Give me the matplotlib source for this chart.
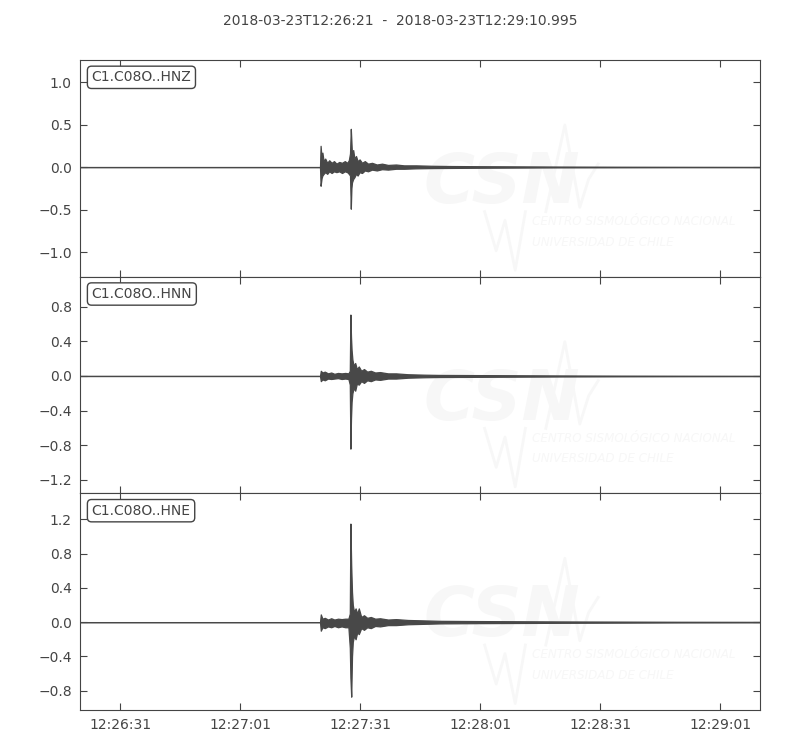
import numpy as np
import matplotlib
matplotlib.use('Agg')
import matplotlib.pyplot as plt

# 标题 / 通道名
title = '2018-03-23T12:26:21  -  2018-03-23T12:29:10.995'
channels = ['C1.C08O..HNZ', 'C1.C08O..HNN', 'C1.C08O..HNE']
duration = 169.995  # 秒

# x 轴刻度 (相对起点的秒数) 与标签
xtick_sec = [10, 40, 70, 100, 130, 160]
xtick_labels = ['12:26:31', '12:27:01', '12:27:31', '12:28:01', '12:28:31', '12:29:01']

# 各分量包络: 时间(s), 上包络, 下包络
t_z = [0, 60.0, 60.15, 60.4, 60.6, 60.9, 61.3, 61.8, 62.3, 62.9, 63.5, 64.1, 64.8, 65.5,
       66.2, 66.8, 67.2, 67.5, 67.7, 67.85, 68.0, 68.3, 68.6, 69.0, 69.4, 69.9, 70.5,
       71.2, 72.0, 73.0, 74.2, 75.5, 77, 79, 81, 84, 88, 93, 100, 110, 120, 135, 150, 170]
up_z = [0, 0, 0.25, 0.1, 0.17, 0.07, 0.1, 0.05, 0.08, 0.05, 0.07, 0.04, 0.06, 0.05, 0.07,
        0.05, 0.08, 0.16, 0.45, 0.3, 0.14, 0.2, 0.1, 0.13, 0.07, 0.09, 0.05, 0.07, 0.04,
        0.05, 0.03, 0.04, 0.025, 0.03, 0.02, 0.02, 0.015, 0.012, 0.01, 0.008, 0.006,
        0.004, 0.003, 0.002]
lo_z = [0, 0, -0.22, -0.13, -0.1, -0.08, -0.06, -0.08, -0.05, -0.07, -0.05, -0.06, -0.05,
        -0.07, -0.05, -0.06, -0.08, -0.1, -0.49, -0.25, -0.18, -0.14, -0.12, -0.08,
        -0.1, -0.06, -0.07, -0.04, -0.05, -0.03, -0.04, -0.025, -0.03, -0.02, -0.02,
        -0.015, -0.012, -0.01, -0.008, -0.006, -0.004, -0.003, -0.002, -0.002]

t_n = [0, 60.0, 60.2, 60.6, 61.2, 62, 62.8, 63.6, 64.5, 65.4, 66.3, 67.1, 67.45, 67.6,
       67.75, 67.9, 68.1, 68.4, 68.8, 69.2, 69.7, 70.3, 71.0, 71.8, 72.7, 73.8, 75, 77,
       79, 82, 86, 90, 100, 110, 120, 135, 150, 170]
up_n = [0, 0, 0.06, 0.04, 0.05, 0.03, 0.04, 0.025, 0.035, 0.03, 0.035, 0.03, 0.06, 0.71,
        0.45, 0.3, 0.19, 0.12, 0.15, 0.08, 0.11, 0.06, 0.08, 0.05, 0.06, 0.04, 0.045,
        0.03, 0.03, 0.02, 0.015, 0.012, 0.01, 0.008, 0.006, 0.004, 0.003, 0.002]
lo_n = [0, 0, -0.06, -0.04, -0.05, -0.03, -0.035, -0.03, -0.025, -0.035, -0.03, -0.035,
        -0.1, -0.84, -0.49, -0.3, -0.2, -0.14, -0.17, -0.09, -0.1, -0.06, -0.08, -0.05,
        -0.06, -0.04, -0.045, -0.03, -0.03, -0.02, -0.015, -0.012, -0.01, -0.008,
        -0.006, -0.004, -0.003, -0.002]

t_e = [0, 60.0, 60.2, 60.6, 61.2, 62, 62.8, 63.6, 64.5, 65.4, 66.3, 67.1, 67.45, 67.6,
       67.8, 68.0, 68.2, 68.5, 68.9, 69.3, 69.7, 70.3, 71.0, 71.8, 72.7, 73.8, 75, 77,
       79, 82, 86, 90, 100, 110, 120, 135, 150, 170]
up_e = [0, 0, 0.09, 0.04, 0.05, 0.03, 0.045, 0.03, 0.04, 0.035, 0.04, 0.04, 0.1, 1.15,
        0.66, 0.35, 0.2, 0.12, 0.16, 0.1, 0.16, 0.06, 0.08, 0.05, 0.06, 0.04, 0.045,
        0.03, 0.035, 0.025, 0.02, 0.015, 0.012, 0.01, 0.008, 0.006, 0.004, 0.003]
lo_e = [0, 0, -0.1, -0.06, -0.07, -0.05, -0.06, -0.045, -0.06, -0.05, -0.06, -0.06, -0.3,
        -0.65, -0.87, -0.4, -0.23, -0.16, -0.2, -0.12, -0.14, -0.07, -0.09, -0.06, -0.07,
        -0.045, -0.05, -0.035, -0.035, -0.025, -0.02, -0.015, -0.012, -0.01, -0.008,
        -0.006, -0.004, -0.003]

# y 轴范围与刻度
ylims = [(-1.29, 1.26), (-1.357, 1.148), (-1.026, 1.503)]
yticks = [[-1.0, -0.5, 0.0, 0.5, 1.0],
          [-1.2, -0.8, -0.4, 0.0, 0.4, 0.8],
          [-0.8, -0.4, 0.0, 0.4, 0.8, 1.2]]

traces = [(t_z, up_z, lo_z), (t_n, up_n, lo_n), (t_e, up_e, lo_e)]

grey = '#444444'
wave = '#484848'
mark = '#f7f7f7'  # 水印颜色, 很淡

fig = plt.figure(figsize=(8, 7.5), dpi=100)
fig.text(0.5, 0.972, title, ha='center', va='center', fontsize=10, color=grey)

left, right, top, bottom = 0.1, 0.95, 0.92, 0.0533
h = (top - bottom) / 3
for i, (t, up, lo) in enumerate(traces):
    ax = fig.add_axes([left, top - (i + 1) * h, right - left, h])
    # 水印 (CSN 标志), 坐标用 axes 比例
    ax.text(0.62, 0.43, 'CSN', transform=ax.transAxes, fontsize=50, fontstyle='italic',
            fontweight='bold', color=mark, ha='center', va='center', zorder=0,
            clip_on=True)
    ax.plot([0.685, 0.713, 0.735, 0.748, 0.762], [0.30, 0.70, 0.32, 0.45, 0.52],
            transform=ax.transAxes, color=mark, lw=2, zorder=0)
    ax.plot([0.595, 0.612, 0.625, 0.64, 0.655], [0.3, 0.12, 0.26, 0.03, 0.3],
            transform=ax.transAxes, color=mark, lw=2, zorder=0)
    ax.text(0.665, 0.255, 'CENTRO SISMOLÓGICO NACIONAL', transform=ax.transAxes,
            fontsize=9.5, fontstyle='italic', color=mark, va='center', zorder=0,
            fontstretch='condensed', clip_on=True)
    ax.text(0.665, 0.16, 'UNIVERSIDAD DE CHILE', transform=ax.transAxes,
            fontsize=9.5, fontstyle='italic', color=mark, va='center', zorder=0,
            fontstretch='condensed', clip_on=True)

    ax.fill_between(t, up, lo, color=wave, lw=0.9, edgecolor=wave, zorder=2)
    ax.set_xlim(0, duration)
    ax.set_ylim(*ylims[i])
    ax.set_yticks(yticks[i])
    ax.set_yticklabels([('%.1f' % v).replace('-', '\u2212') for v in yticks[i]])
    ax.set_xticks(xtick_sec)
    if i == 2:
        ax.set_xticklabels(xtick_labels)
    else:
        ax.set_xticklabels([])
    ax.tick_params(direction='in', top=True, right=True, length=5, color=grey,
                   labelcolor=grey, labelsize=10, pad=6)
    for s in ax.spines.values():
        s.set_color(grey)
    ax.text(0.017, 0.92, channels[i], transform=ax.transAxes, fontsize=10, color=grey,
            va='center', ha='left',
            bbox=dict(boxstyle='round,pad=0.3', fc='white', ec=grey, lw=1))

fig.savefig('out.png', dpi=100)
